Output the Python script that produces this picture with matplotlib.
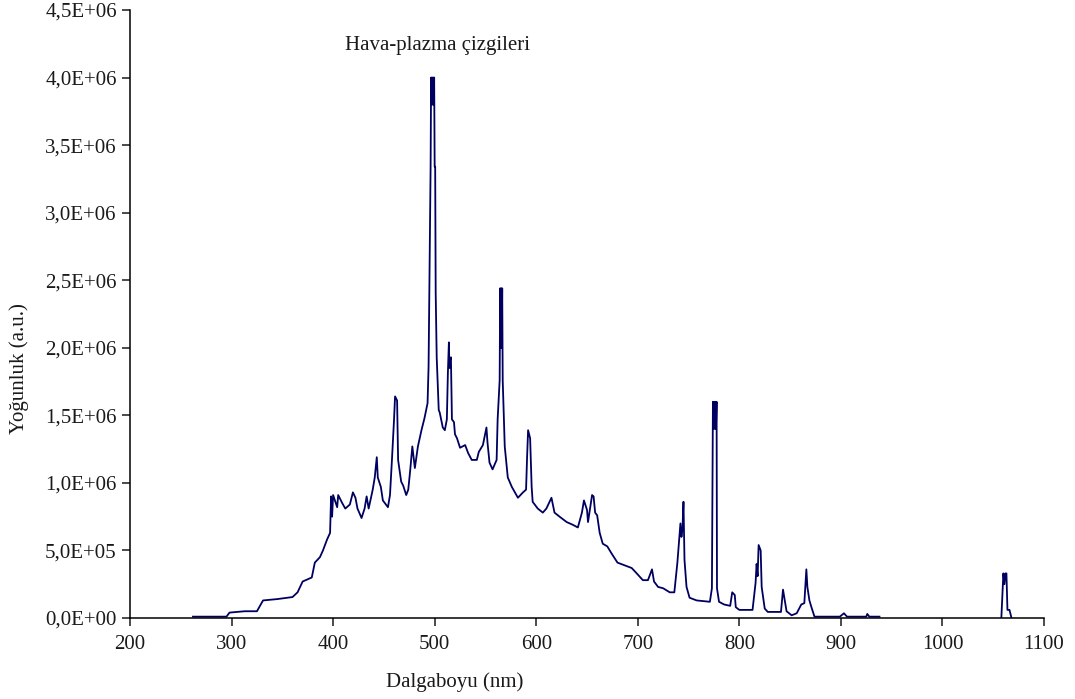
import numpy as np
import matplotlib
matplotlib.use('Agg')
from matplotlib import pyplot as plt
from matplotlib.ticker import FuncFormatter, MultipleLocator

# spectrum: wavelength (nm) and intensity (x 1e6 a.u.)
wl = [262, 295, 298, 313, 325, 331, 345, 360, 365, 370, 379, 382, 387, 390,
      394, 397, 398, 399, 400, 404, 405, 409, 412, 416.5, 419.5, 422, 424, 428,
      431, 433, 435, 439, 441, 443, 444, 447, 449, 454, 456, 458, 460, 461, 463,
      464, 467, 469, 472, 474, 476, 478, 480.5, 483.5, 487, 490, 493, 494, 496,
      496.5, 497, 497.5, 498, 498.5, 499, 499.5, 500, 500.5, 501, 502, 504, 505,
      508, 510, 512, 513, 514, 514.5, 515, 516, 517, 519, 520, 522, 525, 530,
      533, 536.5, 541.5, 543.5, 547.5, 551, 552, 554, 557, 561, 562, 564, 564.5,
      565, 565.5, 566, 566.5, 567, 569, 572, 576, 579, 582, 587, 590, 591, 592,
      594, 595.5, 596.5, 601.5, 606.5, 610, 615, 618, 623, 630, 636, 641, 645,
      647, 650, 651, 655, 656.5, 658, 660, 662.5, 665.5, 670, 674, 680, 687, 694,
      699, 705, 710, 714, 716, 720, 725, 731.5, 736, 739, 741, 742, 743, 744, 745,
      746, 748, 751, 758, 771, 773, 774, 774.6, 775.2, 775.8, 776.4, 777, 777.6,
      778, 780, 785, 791, 793, 795.5, 796.5, 800, 813, 816, 817, 818, 819, 821,
      822, 825, 828, 841, 843, 845, 846.5, 851.5, 856.5, 861, 864, 866, 867, 869,
      871, 874, 899, 903, 906, 925, 926, 928, 938, np.nan, 1058, 1060, 1061, 1062,
      1063, 1064, 1066, 1068]
inten = [0.01, 0.01, 0.04, 0.05, 0.05, 0.13, 0.14, 0.155, 0.19, 0.27, 0.30,
         0.41, 0.45, 0.50, 0.58, 0.63, 0.90, 0.75, 0.91, 0.82, 0.91, 0.85, 0.81,
         0.84, 0.93, 0.89, 0.81, 0.74, 0.81, 0.90, 0.81, 0.95, 1.04, 1.19, 1.04,
         0.97, 0.87, 0.82, 0.91, 1.18, 1.47, 1.64, 1.61, 1.17, 1.01, 0.98, 0.91,
         0.95, 1.10, 1.27, 1.11, 1.27, 1.39, 1.48, 1.59, 1.86, 3.34, 4.00, 3.80,
         4.00, 3.80, 4.00, 3.80, 4.00, 3.34, 3.34, 2.41, 1.93, 1.54, 1.52, 1.41,
         1.39, 1.47, 1.81, 2.04, 1.85, 1.90, 1.93, 1.47, 1.45, 1.36, 1.33, 1.26,
         1.28, 1.22, 1.17, 1.17, 1.23, 1.28, 1.41, 1.30, 1.15, 1.10, 1.17, 1.47,
         1.76, 2.44, 2.00, 2.44, 2.00, 2.44, 1.76, 1.27, 1.04, 0.97, 0.93, 0.89,
         0.93, 0.95, 1.19, 1.39, 1.33, 0.97, 0.86, 0.81, 0.78, 0.81, 0.89, 0.78,
         0.75, 0.71, 0.69, 0.67, 0.78, 0.87, 0.80, 0.71, 0.91, 0.90, 0.78, 0.76,
         0.63, 0.55, 0.53, 0.48, 0.41, 0.39, 0.37, 0.33, 0.28, 0.28, 0.36, 0.27,
         0.23, 0.22, 0.19, 0.19, 0.41, 0.61, 0.70, 0.60, 0.66, 0.86, 0.43, 0.23,
         0.15, 0.13, 0.12, 0.22, 1.60, 1.40, 1.60, 1.40, 1.60, 1.40, 1.60, 0.22,
         0.12, 0.10, 0.09, 0.19, 0.17, 0.08, 0.06, 0.06, 0.26, 0.40, 0.31, 0.54,
         0.50, 0.23, 0.07, 0.045, 0.045, 0.21, 0.12, 0.05, 0.02, 0.035, 0.10, 0.11,
         0.36, 0.23, 0.13, 0.08, 0.01, 0.01, 0.035, 0.01, 0.01, 0.03, 0.01, 0.01,
         np.nan, 0.0, 0.33, 0.25, 0.33, 0.33, 0.06, 0.06, 0.0]

x = np.array(wl, dtype=float)
y = np.array(inten, dtype=float) * 1e6

plt.rcParams['font.family'] = ['Liberation Serif', 'DejaVu Serif']

fig = plt.figure(figsize=(10.75, 6.99), dpi=100)
ax = fig.add_axes([130 / 1075, 1 - 618 / 699, (1044 - 130) / 1075, (618 - 10) / 699])

ax.plot(x, y, color='#000060', lw=1.3)

ax.set_xlim(200, 1100)
ax.set_ylim(0, 4.5e6)
ax.xaxis.set_major_locator(MultipleLocator(100))
ax.yaxis.set_major_locator(MultipleLocator(5e5))
ax.yaxis.set_major_formatter(FuncFormatter(lambda v, p: '{:.1E}'.format(v).replace('.', ',')))

for s in ['top', 'right']:
    ax.spines[s].set_visible(False)
for s in ['left', 'bottom']:
    ax.spines[s].set_linewidth(1.1)
ax.tick_params(axis='both', direction='out', length=6, width=1.1, labelsize=15, colors='#1a1a1a')
ax.tick_params(axis='x', pad=6)

ax.text(503, 4.24e6, 'Hava-plazma çizgileri', fontsize=15, ha='center', va='center', color='#1a1a1a')
ax.set_xlabel('Dalgaboyu (nm)', fontsize=15, color='#1a1a1a', labelpad=12)
ax.xaxis.set_label_coords(0.355, -0.09)
ax.set_ylabel('Yoğunluk (a.u.)', fontsize=15, color='#1a1a1a')
ax.yaxis.set_label_coords(-0.11, 0.41)

fig.savefig('out.png', dpi=100)
